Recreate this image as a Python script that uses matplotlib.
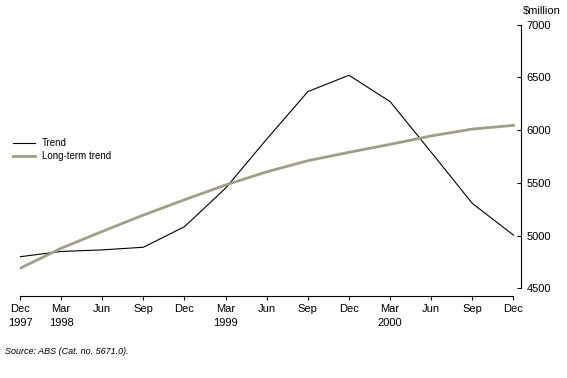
import matplotlib.pyplot as plt

# Quarterly points, Dec 1997 to Dec 2000
quarters = ["Dec\n1997", "Mar\n1998", "Jun", "Sep", "Dec", "Mar\n1999", "Jun",
            "Sep", "Dec", "Mar\n2000", "Jun", "Sep", "Dec"]
trend = [4800, 4850, 4865, 4890, 5085, 5450, 5915, 6365, 6520, 6270, 5790, 5305, 5005]
long_term = [4690, 4880, 5040, 5195, 5340, 5480, 5605, 5710, 5790, 5865, 5945, 6010, 6045]
y_ticks = [4500, 5000, 5500, 6000, 6500, 7000]

plt.rcParams['font.family'] = ['Liberation Sans', 'DejaVu Sans']

fig = plt.figure(figsize=(5.67, 3.78), dpi=100)
ax = fig.add_axes([20 / 567, 1 - 288.4 / 378, 501 / 567, 263.8 / 378])

x = list(range(len(quarters)))
ax.plot(x, trend, color='black', lw=0.8, label='Trend')
ax.plot(x, long_term, color='#a09e84', lw=2.0, label='Long-term trend')

ax.set_xlim(0, 12 + 7.5 / 41.1)
ax.set_ylim(4500, 7000)

# axes styling: right value axis, detached bottom time axis
for side in ['left', 'top']:
    ax.spines[side].set_visible(False)
ax.spines['right'].set_bounds(4500, 7000)
ax.spines['bottom'].set_bounds(0, 12)
ax.spines['bottom'].set_position(('outward', 5.5))
for side in ['right', 'bottom']:
    ax.spines[side].set_linewidth(0.8)

ax.yaxis.tick_right()
ax.set_yticks(y_ticks)
ax.tick_params(axis='y', direction='in', length=3, width=0.8, pad=4, labelsize=8)
ax.set_xticks(x)
ax.set_xticklabels(quarters, linespacing=1.5)
ax.tick_params(axis='x', direction='out', length=3, width=0.8, pad=3, labelsize=8)

fig.text(561 / 567, 1 - 11 / 378, "$million", ha='right', va='center', fontsize=8)

ax.legend(loc='upper left', bbox_to_anchor=(13 / 567, 1 - 138 / 378),
          bbox_transform=fig.transFigure, frameon=False, fontsize=7,
          handlelength=2.3, handletextpad=0.7, labelspacing=0.3, borderpad=0, borderaxespad=0)

fig.text(5 / 567, 1 - 351 / 378, "Source: ABS (Cat. no. 5671.0).", fontsize=6.5,
         style='italic', ha='left', va='center')

fig.savefig('out.png', dpi=100)
